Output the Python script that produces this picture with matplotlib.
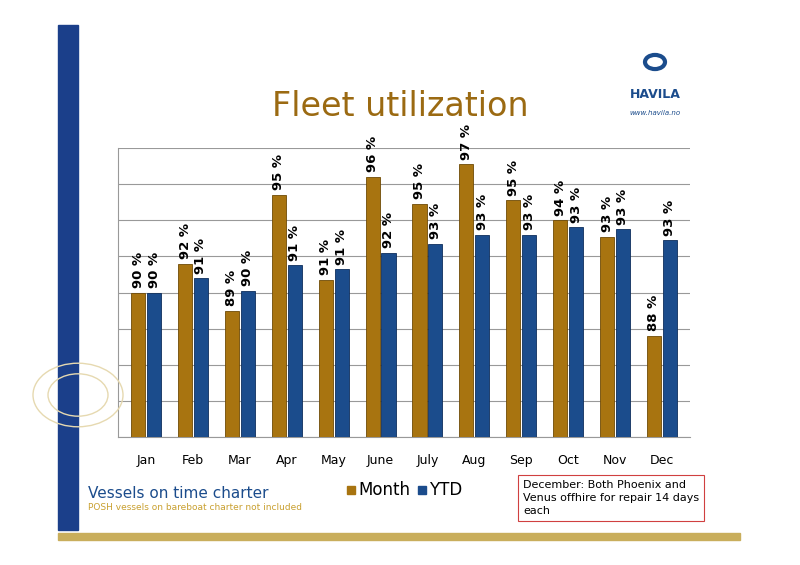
import matplotlib.pyplot as plt
from matplotlib.patches import Rectangle, Circle
import numpy as np

months = ['Jan', 'Feb', 'Mar', 'Apr', 'May', 'June', 'July', 'Aug', 'Sep', 'Oct', 'Nov', 'Dec']
month_util = [90.0, 91.6, 89.0, 95.4, 90.7, 96.4, 94.9, 97.1, 95.1, 94.0, 93.1, 87.6]
ytd_util = [90.0, 90.8, 90.1, 91.5, 91.3, 92.2, 92.7, 93.2, 93.2, 93.6, 93.5, 92.9]
month_labels = ['90 %', '92 %', '89 %', '95 %', '91 %', '96 %', '95 %', '97 %', '95 %', '94 %', '93 %', '88 %']
ytd_labels = ['90 %', '91 %', '90 %', '91 %', '91 %', '92 %', '93 %', '93 %', '93 %', '93 %', '93 %', '93 %']

gold = '#A87410'
blue = '#1B4C8C'

fig = plt.figure(figsize=(8, 5.65), dpi=100)
W, H = 800, 565

def fx(px):
    return px / W

def fy(py):
    return 1 - py / H

# page decorations
fig.patches.append(Rectangle((fx(58), fy(530)), fx(20), fy(25) - fy(530), transform=fig.transFigure,
                             color='#1B3F8A', zorder=0))
fig.patches.append(Rectangle((fx(58), fy(540)), fx(682), 7 / H, transform=fig.transFigure,
                             color='#C9AE5C', zorder=0))
for r in (30, 45):
    fig.patches.append(Circle((fx(78), fy(395)), r / W, transform=fig.transFigure, fill=False,
                              ec='#E6D9B0', lw=1, zorder=0))

# logo
fig.patches.append(Circle((fx(655), fy(62)), 10 / W, transform=fig.transFigure, fill=False,
                          ec=blue, lw=3))
fig.text(fx(655), fy(95), 'HAVILA', color=blue, fontsize=9, fontweight='bold', ha='center', va='center')
fig.text(fx(655), fy(113), 'www.havila.no', color=blue, fontsize=5, style='italic', ha='center', va='center')

fig.text(fx(400), fy(107), 'Fleet utilization', color='#9B6A12', fontsize=24, ha='center', va='center')

ax = fig.add_axes([fx(118), fy(437), fx(690) - fx(118), fy(148) - fy(437)])
x = np.arange(len(months))
w = 0.3
ax.bar(x - w / 2 - 0.02, month_util, w, bottom=0, color=gold, edgecolor='#6E4A05', lw=0.6, zorder=3)
ax.bar(x + w / 2 + 0.02, ytd_util, w, color=blue, edgecolor='#0E2E5C', lw=0.6, zorder=3)
ax.set_ylim(82, 98)
ax.set_xlim(-0.6, 11.6)
for i in range(len(months)):
    ax.text(x[i] - w / 2 - 0.02, month_util[i] + 0.25, month_labels[i], rotation=90, ha='center', va='bottom',
            fontsize=9.5, fontweight='bold', zorder=4)
    ax.text(x[i] + w / 2 + 0.02, ytd_util[i] + 0.25, ytd_labels[i], rotation=90, ha='center', va='bottom',
            fontsize=9.5, fontweight='bold', zorder=4)
ax.set_yticks(np.arange(82, 99, 2))
ax.yaxis.grid(True, color='#999999', lw=0.8)
ax.set_yticklabels([])
ax.tick_params(axis='y', length=0)
ax.set_xticks(x)
ax.set_xticklabels(months, fontsize=9)
ax.tick_params(axis='x', length=0, pad=12)
for s in ('top', 'right'):
    ax.spines[s].set_visible(False)
ax.spines['left'].set_color('#999999')
ax.spines['bottom'].set_color('#999999')

# legend
fig.patches.append(Rectangle((fx(347), fy(494)), 8 / W, 8 / H, transform=fig.transFigure, color=gold))
fig.text(fx(358), fy(490), 'Month', fontsize=12, va='center')
fig.patches.append(Rectangle((fx(418), fy(494)), 8 / W, 8 / H, transform=fig.transFigure, color=blue))
fig.text(fx(429), fy(490), 'YTD', fontsize=12, va='center')

fig.text(fx(88), fy(493), 'Vessels on time charter', color='#1B4C8C', fontsize=11, va='center')
fig.text(fx(88), fy(508), 'POSH vessels on bareboat charter not included', color='#C9A030', fontsize=6.5, va='center')

fig.text(fx(523), fy(498), 'December: Both Phoenix and\nVenus offhire for repair 14 days\neach', fontsize=8,
         va='center', ha='left', linespacing=1.4,
         bbox=dict(boxstyle='square,pad=0.45', fc='white', ec='#D04040', lw=0.8))

fig.savefig('out.png', dpi=100)
